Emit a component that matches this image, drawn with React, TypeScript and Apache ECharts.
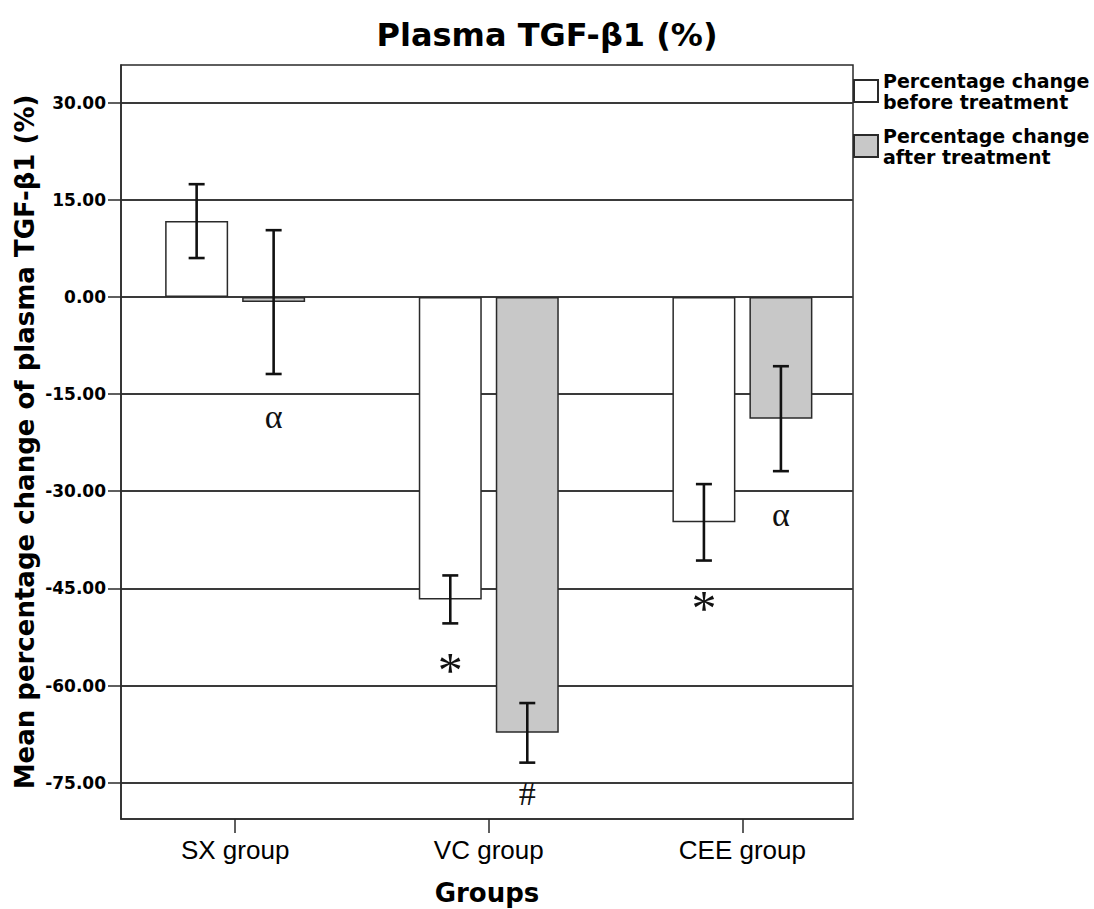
import React, { useEffect, useRef } from "react";
import * as echarts from "echarts";

const titleText = "Plasma TGF-β1 (%)";
const yAxisTitle = "Mean percentage change of plasma TGF-β1 (%)";
const xAxisTitle = "Groups";
const categories = ["SX group", "VC group", "CEE group"];
const seriesNames = ["Percentage change\nbefore treatment", "Percentage change\nafter treatment"];
const meanBefore = [11.7, -46.7, -34.8];
const errBefore = [5.7, 3.7, 5.9];
const meanAfter = [-0.8, -67.3, -18.8];
const errAfter = [11.1, 4.6, 8.1];
const annotBefore = ["", "*", "*"];
const annotAfter = ["α", "#", "α"];
const yTicks = [-75, -60, -45, -30, -15, 0, 15, 30];
const yMin = -80.6;
const yMax = 35.8;
const xMin = -0.45;
const xMax = 2.436;

const BAR_W = 63;
const BAR_GAP_PX = 14;
const INK = "#2a2a2a";
const GLYPH_STYLE: Record<string, { off: number; size: number }> = {
  "α": { off: 43, size: 34 },
  "*": { off: 47, size: 50 },
  "#": { off: 31, size: 34 },
};

function errorSeries(means: number[], errs: number[], annots: string[], side: number) {
  const data = means.map((m, i) => [i, m - errs[i], m + errs[i], i]);
  return {
    type: "custom",
    z: 5,
    silent: true,
    data,
    encode: { x: 0, y: [1, 2] },
    renderItem: (params: any, api: any) => {
      const x = api.value(0);
      const lo = api.value(1);
      const hi = api.value(2);
      const idx = api.value(3);
      const pLo = api.coord([x, lo]);
      const pHi = api.coord([x, hi]);
      const cx = pLo[0] + side * (BAR_W + BAR_GAP_PX) / 2;
      const cap = 8;
      const st = { stroke: "#111", lineWidth: 2.6 };
      const children: any[] = [
        { type: "line", shape: { x1: cx, y1: pHi[1], x2: cx, y2: pLo[1] }, style: st },
        { type: "line", shape: { x1: cx - cap, y1: pHi[1], x2: cx + cap, y2: pHi[1] }, style: st },
        { type: "line", shape: { x1: cx - cap, y1: pLo[1], x2: cx + cap, y2: pLo[1] }, style: st },
      ];
      const a = annots[idx];
      if (a) {
        const g = GLYPH_STYLE[a] || { off: 40, size: 34 };
        children.push({
          type: "text",
          x: cx,
          y: pLo[1] + g.off,
          style: {
            text: a,
            fontFamily: "Liberation Serif",
            fontSize: g.size,
            fill: "#111",
            textAlign: "center",
            textVerticalAlign: "middle",
          },
        });
      }
      return { type: "group", children };
    },
  };
}

export default function App() {
  const ref = useRef<HTMLDivElement>(null);
  useEffect(() => {
    if (!ref.current) return;
    const chart = echarts.init(ref.current, null, { renderer: "svg" });
    const barStyleBefore = { color: "#ffffff", borderColor: INK, borderWidth: 1.5 };
    const barStyleAfter = { color: "#c8c8c8", borderColor: INK, borderWidth: 1.5 };
    chart.setOption({
      animation: false,
      backgroundColor: "#ffffff",
      title: {
        text: titleText,
        left: "center",
        top: 14,
        textStyle: { fontFamily: "DejaVu Sans", fontWeight: "bold", fontSize: 32, color: "#000" },
      },
      legend: {
        data: seriesNames,
        orient: "vertical",
        left: 853,
        top: 70,
        padding: 0,
        itemGap: 13,
        itemWidth: 24,
        itemHeight: 22,
        icon: "rect",
        selectedMode: false,
        textStyle: { fontFamily: "DejaVu Sans", fontWeight: "bold", fontSize: 19, lineHeight: 21, color: "#000" },
      },
      grid: {
        left: 121,
        right: 241,
        top: 65,
        bottom: 90,
        show: true,
        borderColor: INK,
        borderWidth: 1.5,
        backgroundColor: "transparent",
        outerBoundsMode: "none",
      },
      xAxis: {
        type: "value",
        min: xMin,
        max: xMax,
        name: xAxisTitle,
        nameLocation: "middle",
        nameGap: 61,
        nameTextStyle: { fontFamily: "DejaVu Sans", fontWeight: "bold", fontSize: 26, color: "#000" },
        axisLine: { show: true, onZero: false, lineStyle: { color: INK, width: 1.5 } },
        axisTick: { show: true, length: 14, lineStyle: { color: INK, width: 1.5 }, customValues: [0, 1, 2] },
        axisLabel: {
          customValues: [0, 1, 2],
          formatter: (v: number) => categories[Math.round(v)] ?? "",
          margin: 18,
          fontFamily: "Liberation Sans",
          fontSize: 26,
          color: "#000",
        },
        splitLine: { show: false },
      },
      yAxis: {
        type: "value",
        min: yMin,
        max: yMax,
        name: yAxisTitle,
        nameLocation: "middle",
        nameGap: 83,
        nameRotate: 90,
        nameMoveOverlap: false,
        nameTextStyle: { fontFamily: "DejaVu Sans", fontWeight: "bold", fontSize: 26, color: "#000" },
        axisLine: { show: true, onZero: false, lineStyle: { color: INK, width: 1.5 } },
        axisTick: { show: true, length: 13, lineStyle: { color: INK, width: 1.5 }, customValues: yTicks },
        axisLabel: {
          customValues: yTicks,
          formatter: (v: number) => v.toFixed(2),
          margin: 15,
          fontFamily: "DejaVu Sans",
          fontWeight: "bold",
          fontSize: 17,
          color: "#000",
        },
        splitLine: { show: true, lineStyle: { color: "#3a3a3a", width: 1.8 } },
      },
      series: [
        {
          name: seriesNames[0],
          type: "bar",
          data: meanBefore.map((m, i) => [i, m]),
          barWidth: BAR_W,
          barGap: `${(BAR_GAP_PX / BAR_W) * 100}%`,
          itemStyle: barStyleBefore,
          z: 3,
        },
        {
          name: seriesNames[1],
          type: "bar",
          data: meanAfter.map((m, i) => [i, m]),
          barWidth: BAR_W,
          barGap: `${(BAR_GAP_PX / BAR_W) * 100}%`,
          itemStyle: barStyleAfter,
          z: 3,
        },
        errorSeries(meanBefore, errBefore, annotBefore, -1),
        errorSeries(meanAfter, errAfter, annotAfter, 1),
      ],
    });
    return () => chart.dispose();
  }, []);
  return <div ref={ref} style={{ position: "absolute", left: 0, top: 0, width: 1094, height: 909 }} />;
}
